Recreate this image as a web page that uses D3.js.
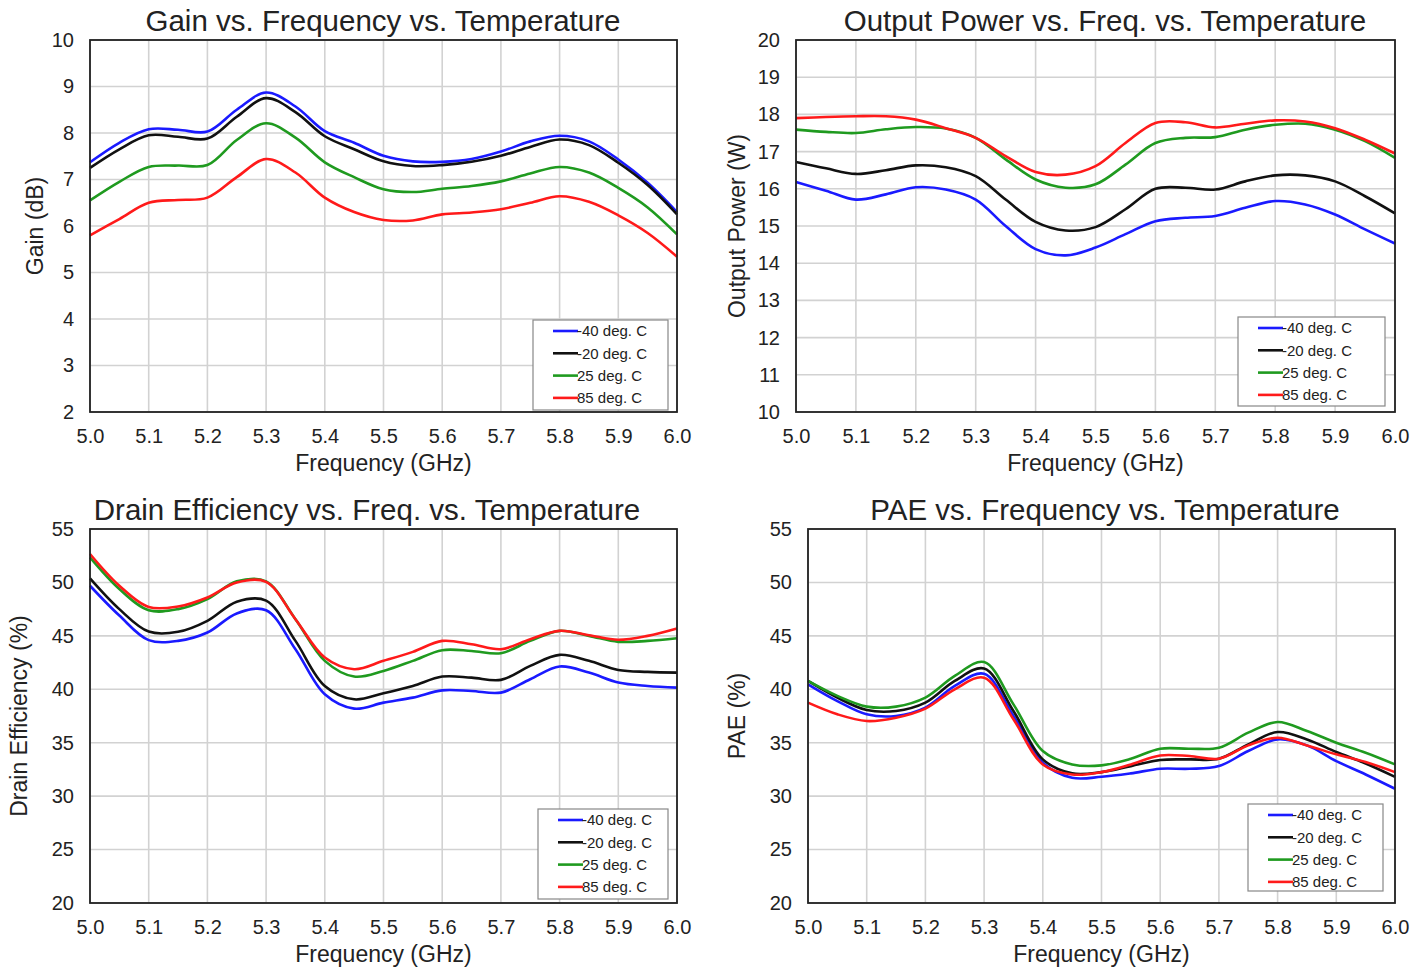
<!DOCTYPE html>
<html>
<head>
<meta charset="utf-8">
<script src="https://cdn.jsdelivr.net/npm/d3@7"></script>
<style>
  html, body { margin: 0; padding: 0; background: #fff; }
  svg { display: block; font-family: "Liberation Sans", Arial, sans-serif; }
</style>
</head>
<body>
<svg id="chart" width="1425" height="969"></svg>
<script>
// ---------- DATA ----------
const freq = [5.00, 5.05, 5.10, 5.15, 5.20, 5.25, 5.30, 5.35, 5.40, 5.45, 5.50,
              5.55, 5.60, 5.65, 5.70, 5.75, 5.80, 5.85, 5.90, 5.95, 6.00];
const seriesNames = ["-40 deg. C", "-20 deg. C", "25 deg. C", "85 deg. C"];
const seriesColors = ["#1a1aff", "#111111", "#1f9a1f", "#ff1a1a"];
const xTicks = [5.0, 5.1, 5.2, 5.3, 5.4, 5.5, 5.6, 5.7, 5.8, 5.9, 6.0];

// Gain (dB)
const gainM40 = [7.37, 7.79, 8.08, 8.07, 8.03, 8.50, 8.87, 8.57, 8.04, 7.79, 7.51, 7.39, 7.38, 7.44, 7.60, 7.82, 7.94, 7.82, 7.43, 6.93, 6.30];
const gainM20 = [7.25, 7.65, 7.95, 7.92, 7.88, 8.35, 8.75, 8.45, 7.93, 7.65, 7.39, 7.29, 7.31, 7.38, 7.51, 7.70, 7.86, 7.74, 7.36, 6.88, 6.25];
const gainP25 = [6.55, 6.95, 7.27, 7.30, 7.31, 7.85, 8.21, 7.90, 7.37, 7.05, 6.79, 6.73, 6.80, 6.86, 6.96, 7.13, 7.27, 7.15, 6.82, 6.40, 5.82];
const gainP85 = [5.80, 6.15, 6.50, 6.56, 6.61, 7.05, 7.44, 7.15, 6.61, 6.30, 6.13, 6.12, 6.25, 6.29, 6.36, 6.50, 6.64, 6.52, 6.23, 5.85, 5.34];

// Output Power (W)
const poutM40 = [16.18, 15.95, 15.71, 15.85, 16.04, 15.98, 15.71, 15.00, 14.38, 14.21, 14.42, 14.78, 15.13, 15.22, 15.27, 15.49, 15.67, 15.58, 15.31, 14.91, 14.53];
const poutM20 = [16.72, 16.55, 16.40, 16.50, 16.63, 16.58, 16.34, 15.71, 15.11, 14.88, 14.97, 15.45, 16.00, 16.03, 15.98, 16.20, 16.36, 16.36, 16.20, 15.80, 15.34];
const poutP25 = [17.59, 17.53, 17.50, 17.60, 17.66, 17.62, 17.37, 16.79, 16.25, 16.03, 16.12, 16.65, 17.23, 17.37, 17.39, 17.59, 17.72, 17.75, 17.59, 17.28, 16.83];
const poutP85 = [17.90, 17.93, 17.95, 17.95, 17.86, 17.63, 17.37, 16.88, 16.45, 16.38, 16.61, 17.23, 17.77, 17.79, 17.65, 17.75, 17.84, 17.81, 17.63, 17.32, 16.95];

// Drain Efficiency (%)
const deM40 = [49.69, 46.90, 44.60, 44.53, 45.31, 47.10, 47.40, 43.75, 39.53, 38.19, 38.75, 39.22, 39.90, 39.84, 39.69, 40.94, 42.13, 41.56, 40.63, 40.31, 40.16];
const deM20 = [50.38, 47.50, 45.40, 45.38, 46.41, 48.20, 48.30, 44.53, 40.31, 39.06, 39.63, 40.31, 41.19, 41.09, 40.88, 42.19, 43.22, 42.66, 41.81, 41.63, 41.56];
const deP25 = [52.34, 49.38, 47.40, 47.50, 48.44, 50.10, 50.10, 46.56, 42.66, 41.19, 41.72, 42.66, 43.66, 43.59, 43.38, 44.53, 45.47, 45.00, 44.44, 44.53, 44.78];
const deP85 = [52.66, 49.69, 47.70, 47.75, 48.59, 50.00, 50.05, 46.56, 42.97, 41.88, 42.66, 43.50, 44.53, 44.22, 43.75, 44.69, 45.47, 45.06, 44.63, 45.00, 45.69];

// PAE (%)
const paeM40 = [40.47, 38.90, 37.66, 37.50, 38.28, 40.31, 41.45, 37.50, 33.13, 31.72, 31.81, 32.13, 32.56, 32.56, 32.81, 34.22, 35.31, 34.75, 33.28, 32.03, 30.69];
const paeM20 = [40.78, 39.22, 38.06, 37.97, 38.75, 40.78, 41.94, 37.97, 33.44, 32.13, 32.25, 32.81, 33.38, 33.44, 33.50, 34.84, 36.00, 35.31, 34.13, 33.06, 31.81];
const paeP25 = [40.78, 39.38, 38.38, 38.38, 39.22, 41.25, 42.55, 38.59, 34.22, 32.97, 32.88, 33.50, 34.44, 34.44, 34.53, 35.94, 36.94, 36.09, 35.00, 34.06, 32.97];
const paeP85 = [38.75, 37.66, 37.03, 37.34, 38.19, 40.00, 41.09, 37.19, 32.97, 32.03, 32.25, 32.97, 33.81, 33.75, 33.50, 34.75, 35.47, 34.75, 33.91, 33.19, 32.25];

const gainTicks = [2, 3, 4, 5, 6, 7, 8, 9, 10];
const poutTicks = [10, 11, 12, 13, 14, 15, 16, 17, 18, 19, 20];
const pctTicks = [20, 25, 30, 35, 40, 45, 50, 55];

const titles = [
  "Gain vs. Frequency vs. Temperature",
  "Output Power vs. Freq. vs. Temperature",
  "Drain Efficiency vs. Freq. vs. Temperature",
  "PAE vs. Frequency vs. Temperature"
];
const yTitles = ["Gain (dB)", "Output Power (W)", "Drain Efficiency (%)", "PAE  (%)"];
const xTitle = "Frequency (GHz)";

// ---------- LAYOUT ----------
const panels = [
  { series: [gainM40, gainM20, gainP25, gainP85], yDomain: [2, 10], yTicks: gainTicks,
    l: 90, r: 677, t: 40, b: 412, titleX: 383, titleY: 20, yTitleX: 35,
    leg: { x: 533, y: 320, w: 135, h: 90 } },
  { series: [poutM40, poutM20, poutP25, poutP85], yDomain: [10, 20], yTicks: poutTicks,
    l: 796, r: 1395, t: 40, b: 412, titleX: 1105, titleY: 20, yTitleX: 737,
    leg: { x: 1238, y: 317, w: 147, h: 89 } },
  { series: [deM40, deM20, deP25, deP85], yDomain: [20, 55], yTicks: pctTicks,
    l: 90, r: 677, t: 529, b: 903, titleX: 367, titleY: 509, yTitleX: 19,
    leg: { x: 538, y: 809, w: 130, h: 90 } },
  { series: [paeM40, paeM20, paeP25, paeP85], yDomain: [20, 55], yTicks: pctTicks,
    l: 808, r: 1395, t: 529, b: 903, titleX: 1105, titleY: 509, yTitleX: 737,
    leg: { x: 1248, y: 804, w: 135, h: 87 } }
];

const svg = d3.select("#chart");

panels.forEach((p, i) => {
  const x = d3.scaleLinear().domain([5.0, 6.0]).range([p.l, p.r]);
  const y = d3.scaleLinear().domain(p.yDomain).range([p.b, p.t]);
  const g = svg.append("g");

  // grid
  g.append("g").selectAll("line").data(xTicks).join("line")
    .attr("x1", d => x(d)).attr("x2", d => x(d))
    .attr("y1", p.t).attr("y2", p.b)
    .attr("stroke", "#d2d2d2").attr("stroke-width", 1.6);
  g.append("g").selectAll("line").data(p.yTicks).join("line")
    .attr("x1", p.l).attr("x2", p.r)
    .attr("y1", d => y(d)).attr("y2", d => y(d))
    .attr("stroke", "#d2d2d2").attr("stroke-width", 1.6);

  // axes (labels only)
  const xAxis = g.append("g").attr("transform", `translate(0,${p.b})`)
    .call(d3.axisBottom(x).tickValues(xTicks).tickFormat(d3.format(".1f")).tickSize(0).tickPadding(17));
  const yAxis = g.append("g").attr("transform", `translate(${p.l},0)`)
    .call(d3.axisLeft(y).tickValues(p.yTicks).tickFormat(d3.format("d")).tickSize(0).tickPadding(16));
  [xAxis, yAxis].forEach(a => {
    a.select(".domain").remove();
    a.selectAll("text").attr("font-size", 20).attr("fill", "#222")
      .attr("font-family", "'Liberation Sans', Arial, sans-serif");
  });

  // lines
  const line = d3.line().x((d, j) => x(freq[j])).y(d => y(d)).curve(d3.curveCatmullRom.alpha(0.5));
  p.series.forEach((s, k) => {
    g.append("path").datum(s).attr("d", line)
      .attr("fill", "none").attr("stroke", seriesColors[k])
      .attr("stroke-width", 2.6).attr("stroke-linejoin", "round");
  });

  // frame
  g.append("rect").attr("x", p.l).attr("y", p.t)
    .attr("width", p.r - p.l).attr("height", p.b - p.t)
    .attr("fill", "none").attr("stroke", "#222").attr("stroke-width", 1.8);

  // legend
  const lg = g.append("g").attr("transform", `translate(${p.leg.x},${p.leg.y})`);
  lg.append("rect").attr("width", p.leg.w).attr("height", p.leg.h)
    .attr("fill", "#fff").attr("stroke", "#888").attr("stroke-width", 1.2);
  seriesNames.forEach((name, k) => {
    const ry = 11 + k * 22.3;
    lg.append("line").attr("x1", 20).attr("x2", 45).attr("y1", ry).attr("y2", ry)
      .attr("stroke", seriesColors[k]).attr("stroke-width", 2.6);
    lg.append("text").attr("x", 44).attr("y", ry).attr("dy", "0.35em")
      .attr("font-size", 15).attr("fill", "#222").text(name);
  });

  // titles
  g.append("text").attr("x", p.titleX).attr("y", p.titleY).attr("dy", "0.36em")
    .attr("text-anchor", "middle").attr("font-size", 29.5).attr("fill", "#222").text(titles[i]);
  g.append("text").attr("x", (p.l + p.r) / 2).attr("y", p.b + 51).attr("dy", "0.36em")
    .attr("text-anchor", "middle").attr("font-size", 23).attr("fill", "#222").text(xTitle);
  g.append("text")
    .attr("transform", `translate(${p.yTitleX},${(p.t + p.b) / 2}) rotate(-90)`)
    .attr("dy", "0.36em").attr("text-anchor", "middle")
    .attr("font-size", 23).attr("fill", "#222").text(yTitles[i]);
});
</script>
</body>
</html>
